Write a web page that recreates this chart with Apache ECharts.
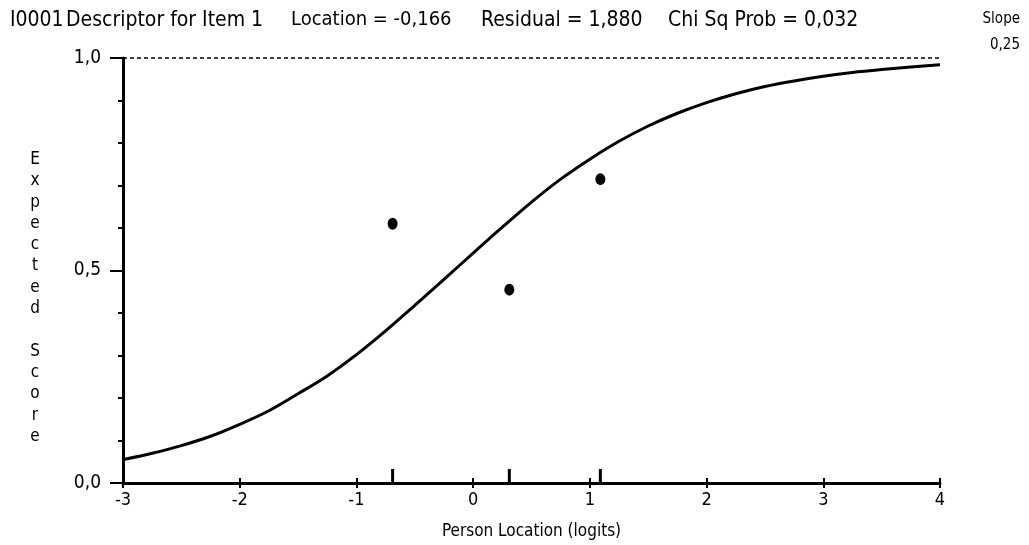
<!DOCTYPE html>
<html><head><meta charset="utf-8">
<script src="https://cdn.jsdelivr.net/npm/echarts@6/dist/echarts.min.js"></script>
<style>html,body{margin:0;padding:0;background:#fff}#c{width:1029px;height:545px}</style>
</head><body><div id="c"></div>
<script>
// Expected score curve
const curveX = [-3,-2.75,-2.5,-2.25,-2,-1.75,-1.5,-1.25,-1,-0.75,-0.5,-0.25,0,0.25,0.5,0.75,1,1.25,1.5,1.75,2,2.25,2.5,2.75,3,3.25,3.5,3.75,4];
const curveY = [0.055,0.070,0.088,0.110,0.138,0.170,0.210,0.252,0.302,0.358,0.418,0.479,0.541,0.602,0.661,0.715,0.762,0.804,0.840,0.870,0.895,0.916,0.933,0.946,0.957,0.966,0.973,0.979,0.984];
// Observed class means
const obsX = [-0.69, 0.31, 1.09];
const obsY = [0.61, 0.455, 0.715];
const xTickLabels = ['-3','-2','-1','0','1','2','3','4'];
const titleParts = ['I0001', 'Descriptor for Item 1', 'Location = -0,166', 'Residual = 1,880', 'Chi Sq Prob = 0,032'];
const slopeLabel = ['Slope', '0,25'];
const yTitle = 'Expected Score';

const FONT = "'DejaVu Sans Condensed',sans-serif";
const chart = echarts.init(document.getElementById('c'));
const titleX = [10, 66, 291, 481, 668];
const titleSize = [21, 21, 20, 21, 21];
const graphics = titleParts.map((t, i) => ({
  type: 'text', left: titleX[i], top: 10,
  style: { text: t, font: titleSize[i] + 'px ' + FONT, fill: '#000' }
}));
graphics.push({ type: 'text', right: 9, top: 12, style: { text: slopeLabel[0], font: '15px ' + FONT, fill: '#000', textAlign: 'right' } });
graphics.push({ type: 'text', right: 9, top: 38, style: { text: slopeLabel[1], font: '15px ' + FONT, fill: '#000', textAlign: 'right' } });
const yt = yTitle.split(' ').map(w => w.split('').join('\n')).join('\n\n');
graphics.push({ type: 'text', x: 35, y: 298, style: { text: yt, font: '17px ' + FONT, fill: '#000', align: 'center', verticalAlign: 'middle', lineHeight: 21.3 } });

const fmt = v => v.toFixed(1).replace('.', ',');
chart.setOption({
  animation: false,
  grid: { left: 123, right: 89, top: 58, bottom: 58 },
  graphic: graphics,
  xAxis: [{
    type: 'value', min: -3, max: 4, interval: 1, position: 'bottom',
    axisLine: { onZero: false, lineStyle: { color: '#000', width: 3 } },
    axisTick: { show: true, inside: false, length: 5, lineStyle: { color: '#000', width: 2 } },
    axisLabel: { color: '#000', fontFamily: FONT, fontSize: 18, margin: 8, formatter: v => xTickLabels[Math.round(v + 3)] },
    splitLine: { show: false },
    name: 'Person Location (logits)', nameLocation: 'middle', nameGap: 40,
    nameTextStyle: { color: '#000', fontFamily: FONT, fontSize: 17 }
  }, {
    type: 'value', min: -3, max: 4, interval: 1, position: 'bottom', offset: 0,
    axisLine: { show: false, onZero: false },
    axisTick: { show: true, inside: true, length: 5, lineStyle: { color: '#000', width: 2 } },
    axisLabel: { show: false }, splitLine: { show: false }
  }],
  yAxis: [{
    type: 'value', min: 0, max: 1, interval: 0.1, position: 'left',
    axisLine: { show: true, onZero: false, lineStyle: { color: '#000', width: 3 } },
    axisTick: { show: true, length: 5, lineStyle: { color: '#000', width: 2 } },
    axisLabel: { show: false }, splitLine: { show: false }
  }, {
    type: 'value', min: 0, max: 1, interval: 0.5, position: 'left', offset: 0,
    axisLine: { show: false, onZero: false },
    axisTick: { show: true, length: 13, lineStyle: { color: '#000', width: 2 } },
    axisLabel: { color: '#000', fontFamily: FONT, fontSize: 19, margin: 22, formatter: fmt },
    splitLine: { show: false }
  }],
  series: [{
    type: 'line', xAxisIndex: 0, yAxisIndex: 0,
    data: curveX.map((x, i) => [x, curveY[i]]),
    showSymbol: false, smooth: 0.3,
    lineStyle: { color: '#000', width: 3 },
    markLine: {
      silent: true, symbol: 'none', label: { show: false },
      lineStyle: { color: '#000', width: 1.5, type: [4, 3] },
      data: [[{ coord: [-3, 1] }, { coord: [4, 1] }]]
    }
  }, {
    type: 'scatter', xAxisIndex: 0, yAxisIndex: 0,
    data: obsX.map((x, i) => [x, obsY[i]]),
    symbol: 'circle', symbolSize: [10, 12], itemStyle: { color: '#000', opacity: 1 }
  }, {
    type: 'custom', xAxisIndex: 0, yAxisIndex: 0,
    data: obsX.map(x => [x, 0]),
    renderItem: (params, api) => {
      const p = api.coord([api.value(0), 0]);
      return { type: 'rect', shape: { x: p[0] - 1.5, y: p[1] - 14, width: 3, height: 14 }, style: { fill: '#000' } };
    }
  }]
});
</script>
</body></html>
